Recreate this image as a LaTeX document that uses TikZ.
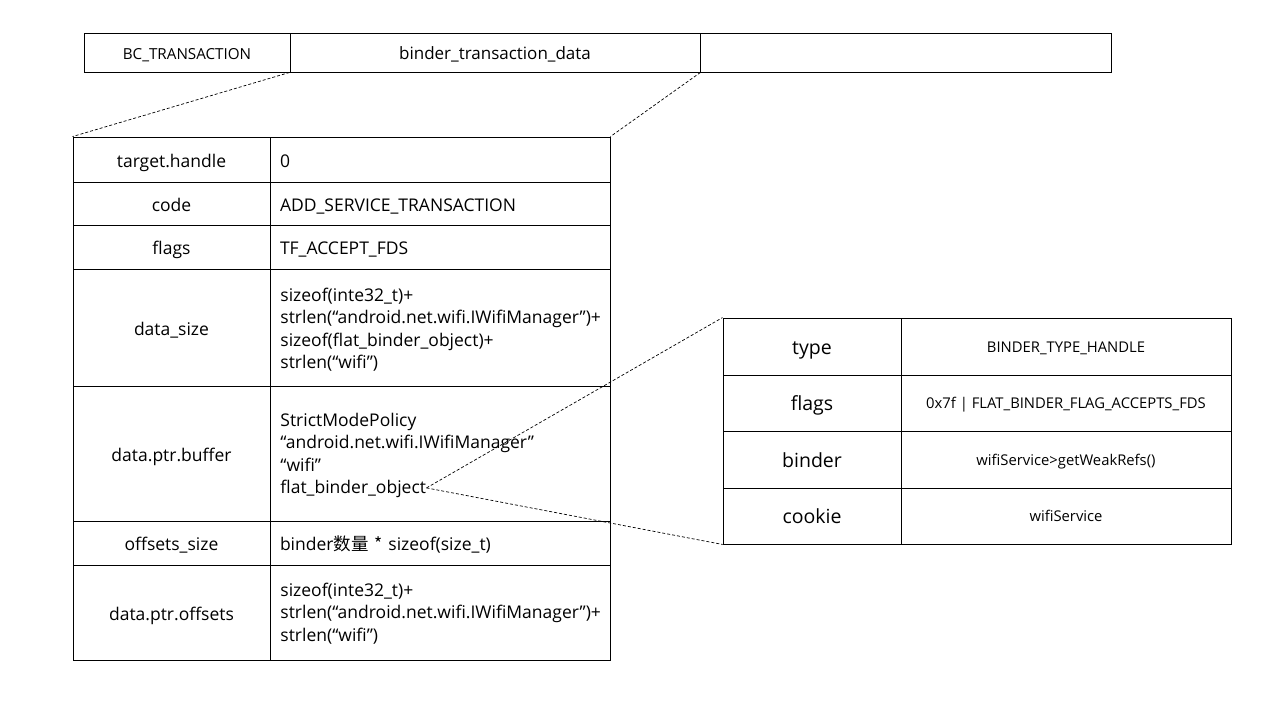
\documentclass[tikz,border=0pt]{standalone}
\usepackage{fontspec}
\setmainfont{Open Sans}
\newfontfamily\cjk{Noto Sans CJK SC}
\begin{document}
\begin{tikzpicture}[x=1pt,y=-1pt,
  line width=0.9pt,
  box/.style={draw, inner sep=0pt, anchor=center, text depth=0pt},
  lab/.style={box, text height=15.5pt, font=\fontsize{17.5}{22.5}\selectfont},
  val/.style={draw, inner xsep=10pt, inner ysep=0pt, text width=320pt, align=left,
      font=\fontsize{17.5}{22.5}\selectfont, anchor=center, text height=15.5pt, text depth=0pt},
  rlab/.style={box, text height=15pt, font=\fontsize{19.5}{24}\selectfont},
  rval/.style={box, text height=11.5pt, font=\fontsize{14.8}{17}\selectfont},
  topc/.style={box, text height=14.4pt, minimum height=39pt},
  txt/.style={inner sep=0pt, align=left, font=\fontsize{17.5}{22.5}\selectfont},
  link/.style={line width=0.7pt, dash pattern=on 3pt off 2pt}]
\useasboundingbox (0,0) rectangle (1276,701);
% top bar
\node[topc, minimum width=206pt, font=\fontsize{15.2}{17}\selectfont] (bc) at (187,52.5) {BC\_TRANSACTION};
\node[topc, minimum width=410pt, font=\fontsize{17}{22}\selectfont] (btd) at (495,52.5) {binder\_transaction\_data};
\node[topc, minimum width=411pt] (rest) at (905.5,52.5) {};
% left table
\node[lab, minimum width=197pt, minimum height=45pt] (l1) at (171.5,159.5) {target.handle};
\node[val, minimum height=45pt] (v1) at (440,159.5) {0};
\node[lab, minimum width=197pt, minimum height=43pt] (l2) at (171.5,203.5) {code};
\node[val, minimum height=43pt] (v2) at (440,203.5) {ADD\_SERVICE\_TRANSACTION};
\node[lab, minimum width=197pt, minimum height=44pt] (l3) at (171.5,247) {flags};
\node[val, minimum height=44pt] (v3) at (440,247) {TF\_ACCEPT\_FDS};
\node[lab, minimum width=197pt, minimum height=117pt] (l4) at (171.5,327.5) {data\_size};
\node[box, minimum width=340pt, minimum height=117pt] (v4) at (440,327.5) {};
\node[txt, anchor=base west] (t4) at (280,368.5) {sizeof(inte32\_t)+\\strlen(“android.net.wifi.IWifiManager”)+\\sizeof(flat\_binder\_object)+\\strlen(“wifi”)};
\node[lab, minimum width=197pt, minimum height=135pt] (l5) at (171.5,453.5) {data.ptr.buffer};
\node[box, minimum width=340pt, minimum height=135pt] (v5) at (440,453.5) {};
\node[txt, anchor=base west] (buf) at (280,471) {StrictModePolicy\\“android.net.wifi.IWifiManager”\\“wifi”};
\node[txt, anchor=base west] (fbo) at (280,493.5) {flat\_binder\_object};
\node[lab, minimum width=197pt, minimum height=44pt] (l6) at (171.5,543) {offsets\_size};
\node[val, minimum height=44pt] (v6) at (440,543) {binder{\cjk 数量} {\cjk *} sizeof(size\_t)};
\node[lab, minimum width=197pt, minimum height=95pt] (l7) at (171.5,612.5) {data.ptr.offsets};
\node[box, minimum width=340pt, minimum height=95pt] (v7) at (440,612.5) {};
\node[txt, anchor=base west] (t7) at (280,641) {sizeof(inte32\_t)+\\strlen(“android.net.wifi.IWifiManager”)+\\strlen(“wifi”)};
% right table
\node[rlab, minimum width=178pt, minimum height=57pt] (r1) at (812,346.5) {type};
\node[rval, minimum width=330pt, minimum height=57pt] (s1) at (1066,346.5) {BINDER\_TYPE\_HANDLE};
\node[rlab, minimum width=178pt, minimum height=56pt] (r2) at (812,403) {flags};
\node[rval, minimum width=330pt, minimum height=56pt] (s2) at (1066,403) {0x7f | FLAT\_BINDER\_FLAG\_ACCEPTS\_FDS};
\node[rlab, minimum width=178pt, minimum height=57pt] (r3) at (812,459.5) {binder};
\node[rval, minimum width=330pt, minimum height=57pt] (s3) at (1066,459.5) {wifiService>getWeakRefs()};
\node[rlab, minimum width=178pt, minimum height=56pt] (r4) at (812,516) {cookie};
\node[rval, minimum width=330pt, minimum height=56pt] (s4) at (1066,516) {wifiService};
% connectors
\draw[link] (btd.south west) -- (l1.north west);
\draw[link] (btd.south east) -- (v1.north east);
\draw[link] ([yshift=1pt]fbo.east) -- (r1.north west);
\draw[link] ([yshift=1pt]fbo.east) -- (r4.south west);
\end{tikzpicture}
\end{document}
